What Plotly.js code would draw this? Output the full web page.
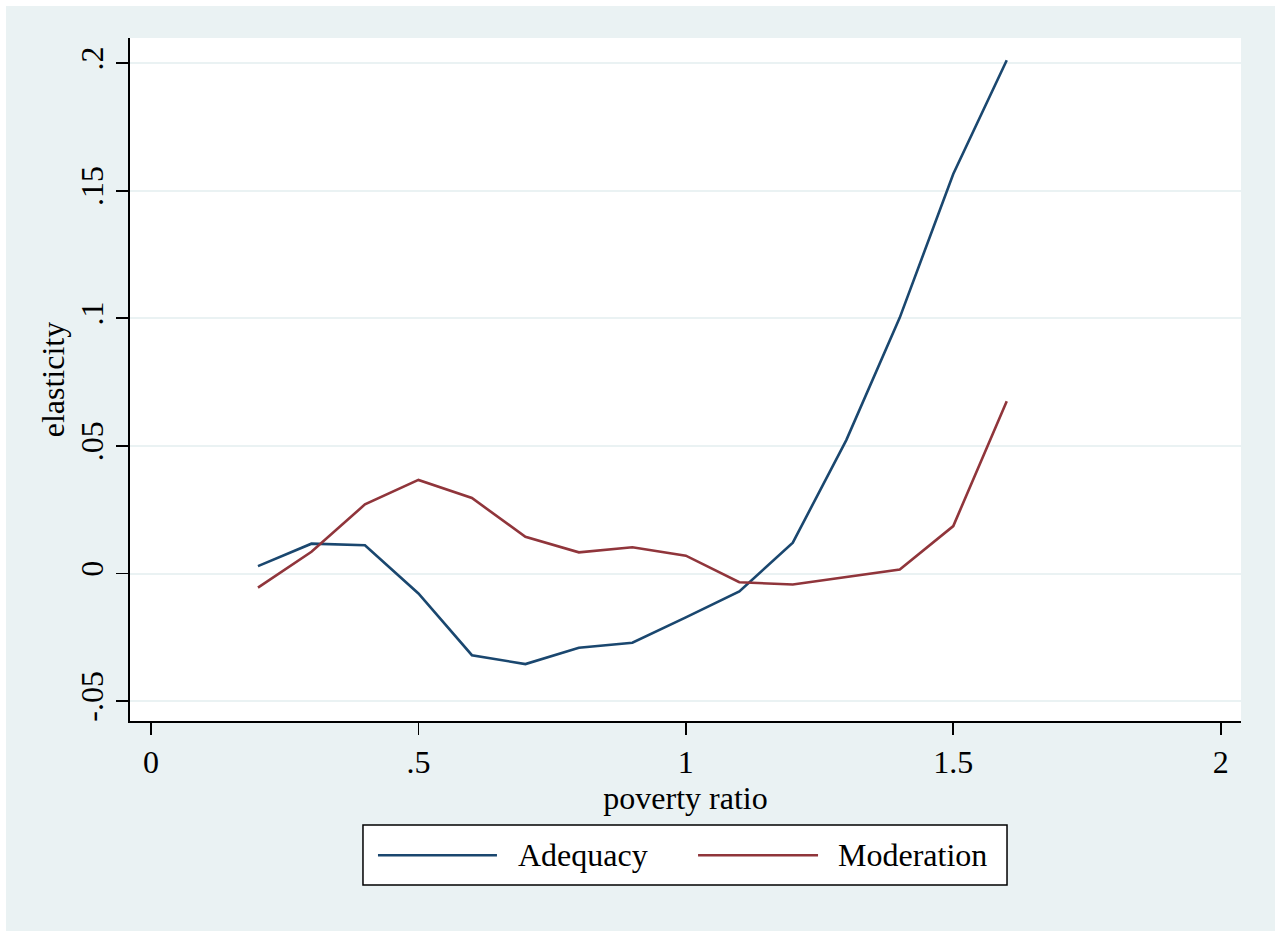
<!DOCTYPE html>
<html>
<head>
<meta charset="utf-8">
<script src="https://cdn.plot.ly/plotly-3.0.1.min.js"></script>
<style>
  html, body { margin: 0; padding: 0; background: #ffffff; }
  #chart { position: absolute; left: 6px; top: 6px; width: 1269px; height: 925px; }
</style>
</head>
<body>
<div id="chart"></div>
<script>
// Data
const povertyRatio = [0.2, 0.3, 0.4, 0.5, 0.6, 0.7, 0.8, 0.9, 1.0, 1.1, 1.2, 1.3, 1.4, 1.5, 1.6];
const adequacy = [0.0029, 0.0117, 0.0111, -0.0078, -0.0320, -0.0355, -0.0291, -0.0271, -0.0172, -0.0070, 0.0121, 0.0523, 0.1003, 0.1566, 0.2012];
const moderation = [-0.0055, 0.0085, 0.0271, 0.0367, 0.0296, 0.0144, 0.0083, 0.0103, 0.0070, -0.0034, -0.0043, -0.0013, 0.0016, 0.0186, 0.0675];
const seriesNames = ["Adequacy", "Moderation"];
const seriesColors = ["#1a476f", "#90353b"];
const xTickVals = [0, 0.5, 1, 1.5, 2];
const xTickText = ["0", ".5", "1", "1.5", "2"];
const yTickVals = [-0.05, 0, 0.05, 0.1, 0.15, 0.2];
const yTickText = ["-.05", "0", ".05", ".1", ".15", ".2"];
const xTitle = "poverty ratio";
const yTitle = "elasticity";

const FONT = "Liberation Serif, Times New Roman, serif";
const FS = 32;
const LW = 2.6;

const traces = [
  { x: povertyRatio, y: adequacy, type: "scatter", mode: "lines", name: seriesNames[0],
    line: { color: seriesColors[0], width: LW } },
  { x: povertyRatio, y: moderation, type: "scatter", mode: "lines", name: seriesNames[1],
    line: { color: seriesColors[1], width: LW } }
];

// Stata-style legend: box with long line samples, drawn in paper coordinates
const legY = -0.1965;
const shapes = [
  { type: "rect", xref: "paper", yref: "paper", x0: 0.2097, x1: 0.7894, y0: -0.2401, y1: -0.1523,
    line: { color: "#000000", width: 1.5 }, fillcolor: "#ffffff" },
  { type: "line", xref: "paper", yref: "paper", x0: 0.2232, x1: 0.3303, y0: legY, y1: legY,
    line: { color: seriesColors[0], width: LW } },
  { type: "line", xref: "paper", yref: "paper", x0: 0.5113, x1: 0.6193, y0: legY, y1: legY,
    line: { color: seriesColors[1], width: LW } }
];
const annotations = [
  { xref: "paper", yref: "paper", x: 0.3474, y: legY, xanchor: "left", yanchor: "middle",
    text: seriesNames[0], showarrow: false, font: { family: FONT, size: FS, color: "#000000" } },
  { xref: "paper", yref: "paper", x: 0.6355, y: legY, xanchor: "left", yanchor: "middle",
    text: seriesNames[1], showarrow: false, font: { family: FONT, size: FS, color: "#000000" } }
];

const layout = {
  width: 1269, height: 925,
  paper_bgcolor: "#eaf2f3",
  plot_bgcolor: "#ffffff",
  margin: { l: 124, r: 34, t: 32, b: 210 },
  showlegend: false,
  font: { family: FONT, size: FS, color: "#000000" },
  xaxis: {
    range: [-0.0393, 2.038],
    tickmode: "array", tickvals: xTickVals, ticktext: xTickText,
    ticks: "outside", ticklen: 12, tickwidth: 1.8, tickcolor: "#000000",
    showline: true, linecolor: "#000000", linewidth: 2,
    showgrid: false, zeroline: false,
    tickfont: { family: FONT, size: FS, color: "#000000" },
    title: { text: xTitle, font: { family: FONT, size: FS, color: "#000000" }, standoff: 0 },
    automargin: false
  },
  yaxis: {
    range: [-0.0578, 0.2099],
    tickmode: "array", tickvals: yTickVals, ticktext: yTickText,
    tickangle: -90,
    ticks: "outside", ticklen: 12, tickwidth: 1.8, tickcolor: "#000000",
    showline: true, linecolor: "#000000", linewidth: 2,
    showgrid: true, gridcolor: "#eaf2f3", gridwidth: 2,
    zeroline: false,
    tickfont: { family: FONT, size: FS, color: "#000000" },
    title: { text: yTitle, font: { family: FONT, size: FS, color: "#000000" }, standoff: 0 },
    automargin: false
  },
  shapes: shapes,
  annotations: annotations
};

Plotly.newPlot("chart", traces, layout, { displayModeBar: false, staticPlot: true });
</script>
</body>
</html>
